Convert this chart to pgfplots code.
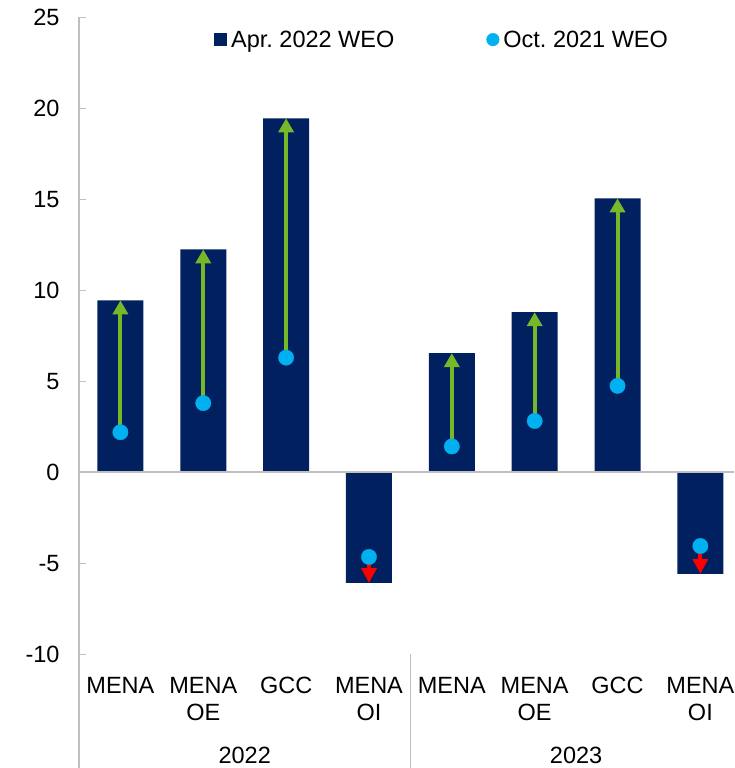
\documentclass[border=0pt]{standalone}
\usepackage{pgfplots}
\pgfplotsset{compat=1.18}
\usepackage{fontspec}
\setmainfont{Liberation Sans}
\usetikzlibrary{arrows.meta}
\definecolor{navy}{RGB}{0,32,96}
\definecolor{dotcyan}{RGB}{0,176,240}
\definecolor{arrgreen}{RGB}{119,184,40}
\definecolor{axgray}{RGB}{191,191,191}
\newcommand{\bigfont}{\fontsize{23.5}{27}\selectfont}
\frenchspacing
\begin{document}
\begin{tikzpicture}
\begin{axis}[
  scale only axis, width=655pt, height=637pt,
  xmin=-0.5, xmax=7.406, ymin=-10, ymax=25,
  clip=false,
  axis y line*=left, axis x line*=bottom,
  x axis line style={draw=none},
  y axis line style={axgray, line width=1.5pt},
  ytick={-10,-5,...,25},
  ytick align=inside, major tick length=7pt,
  ytick style={axgray, line width=1.5pt},
  xtick={0,...,7}, xtick style={draw=none},
  xticklabels={MENA, {MENA\\OE}, GCC, {MENA\\OI}, MENA, {MENA\\OE}, GCC, {MENA\\OI}},
  xticklabel style={align=center, font=\bigfont, yshift=-19pt, anchor=north},
  yticklabel style={font=\bigfont, xshift=-16pt},
  /pgf/number format/assume math mode=true,
  legend columns=2,
  legend style={at={(axis description cs:0.206,0.965)}, anchor=west, draw=none, fill=none,
    inner sep=0pt, font=\bigfont, nodes={inner sep=4pt},
    /tikz/every even column/.append style={column sep=88pt}},
]
\addplot[ybar, bar width=46pt, fill=navy, draw=none,
  legend image code/.code={\fill[navy] (0pt,-6.5pt) rectangle (13pt,6.5pt);}]
  coordinates {(0,9.45) (1,12.25) (2,19.45) (3,-6.08) (4,6.55) (5,8.8) (6,15.05) (7,-5.58)};
\addlegendentry{Apr.\ 2022 WEO}
\addplot[arrgreen, line width=4pt, forget plot, quiver={u=\thisrow{u}, v=\thisrow{v}},
  -{Triangle[width=15pt,length=14pt]}] table[x=x, y=y] {
x y u v
0 2.2 0 7.25
1 3.8 0 8.45
2 6.3 0 13.15
4 1.42 0 5.13
5 2.82 0 5.98
6 4.75 0 10.3
};
\addplot[red, line width=4pt, forget plot, quiver={u=\thisrow{u}, v=\thisrow{v}},
  -{Triangle[width=15pt,length=15pt]}] table[x=x, y=y] {
x y u v
3 -4.65 0 -1.43
7 -4.05 0 -1.53
};
\addplot[only marks, mark=*, mark size=7.7pt, mark options={fill=dotcyan, draw=dotcyan, line width=0.3pt},
  legend image code/.code={\fill[dotcyan] (6.3pt,0pt) circle (6.3pt);}]
  coordinates {(0,2.2) (1,3.8) (2,6.3) (3,-4.65) (4,1.42) (5,2.82) (6,4.75) (7,-4.05)};
\addlegendentry{Oct.\ 2021 WEO}
\draw[axgray, line width=2pt] (axis cs:-0.5,0) -- (axis cs:7.406,0);
\draw[axgray, line width=1.5pt] (axis cs:-0.5,-10) -- ++(0pt,-114pt);
\draw[axgray, line width=1.5pt] (axis cs:3.5,-10) -- ++(0pt,-114pt);
\node[anchor=base, font=\bigfont, yshift=-109pt] at (axis cs:1.5,-10) {2022};
\node[anchor=base, font=\bigfont, yshift=-109pt] at (axis cs:5.5,-10) {2023};
\coordinate (sw) at (axis cs:-0.5,-10);
\coordinate (ne) at (axis cs:7.406,25);
\end{axis}
\pgfresetboundingbox
\useasboundingbox ([shift={(-79pt,-113.7pt)}]sw) rectangle ([shift={(0pt,17.3pt)}]ne);
\end{tikzpicture}
\end{document}
